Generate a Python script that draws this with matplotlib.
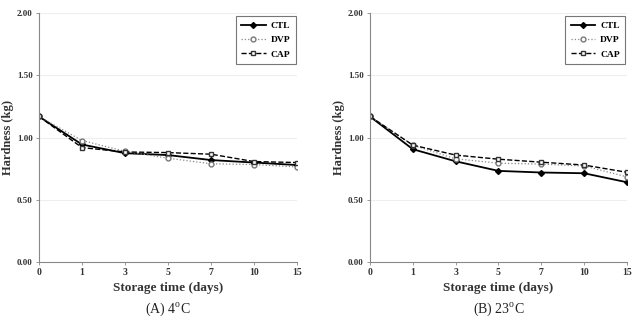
import matplotlib
matplotlib.use("Agg")
import matplotlib.pyplot as plt
import numpy as np

days = ["0", "1", "3", "5", "7", "10", "15"]
yticks = [0.0, 0.5, 1.0, 1.5, 2.0]

ctl_a = [1.17, 0.945, 0.875, 0.86, 0.82, 0.80, 0.78]
dvp_a = [1.17, 0.977, 0.89, 0.835, 0.79, 0.784, 0.765]
cap_a = [1.17, 0.92, 0.885, 0.88, 0.867, 0.808, 0.80]

ctl_b = [1.17, 0.907, 0.81, 0.733, 0.72, 0.714, 0.642]
dvp_b = [1.17, 0.94, 0.83, 0.795, 0.787, 0.773, 0.685]
cap_b = [1.17, 0.94, 0.86, 0.827, 0.803, 0.78, 0.722]

captions = ["(A) 4$^{\\mathrm{o}}$C", "(B) 23$^{\\mathrm{o}}$C"]

plt.rcParams['font.family'] = ['Liberation Serif', 'DejaVu Serif']
plt.rcParams['mathtext.fontset'] = 'custom'
plt.rcParams['mathtext.rm'] = 'Liberation Serif'

fig = plt.figure(figsize=(6.34, 3.22), dpi=100)
positions = [[0.0615, 0.186, 0.407, 0.773], [0.5836, 0.186, 0.405, 0.773]]
data = [(ctl_a, dvp_a, cap_a), (ctl_b, dvp_b, cap_b)]
x = np.arange(len(days))

for pos, (ctl, dvp, cap), cap_text in zip(positions, data, captions):
    ax = fig.add_axes(pos)
    ax.plot(x, ctl, color='black', lw=1.3, marker='D', ms=3, mfc='black', mec='black', label='CTL')
    ax.plot(x, dvp, color='#888888', lw=0.9, ls=':', marker='o', ms=3.5, mfc='white', mec='#777777', label='DVP')
    ax.plot(x, cap, color='black', lw=1.0, ls='--', marker='s', ms=3.5, mfc='white', mec='#333333', label='CAP')
    ax.set_xlim(0, len(days) - 1)
    ax.set_ylim(0, 2.0)
    ax.set_xticks(x)
    ax.set_xticklabels(days, fontsize=7, fontweight='bold', color='#333333')
    ax.set_yticks(yticks)
    ax.set_yticklabels([f"{v:.2f}" for v in yticks], fontsize=6.5, fontweight='bold', color='#333333')
    for v in yticks[1:]:
        ax.axhline(v, color='#eeeeee', lw=0.8, zorder=0)
    for s in ['top', 'right']:
        ax.spines[s].set_visible(False)
    for s in ['left', 'bottom']:
        ax.spines[s].set_color('#888888')
        ax.spines[s].set_linewidth(0.8)
    ax.tick_params(axis='both', length=2.5, width=0.6, color='#888888', pad=2)
    ax.set_xlabel("Storage time (days)", fontsize=9.5, fontweight='bold', color='#333333', labelpad=3)
    ax.set_ylabel("Hardness (kg)", fontsize=9, fontweight='bold', color='#333333', labelpad=2)
    leg = ax.legend(loc='upper right', bbox_to_anchor=(0.995, 0.99), frameon=True, fancybox=False,
                    edgecolor='#555555', handlelength=2.6, borderpad=0.6, labelspacing=0.6,
                    handletextpad=0.5, borderaxespad=0.0, prop={'weight': 'bold', 'size': 6.8})
    leg.get_frame().set_linewidth(0.8)
    ax.text(0.5, -0.155, cap_text, transform=ax.transAxes, ha='center', va='top', fontsize=10, color='#222222')

fig.savefig("out.png", dpi=100)
